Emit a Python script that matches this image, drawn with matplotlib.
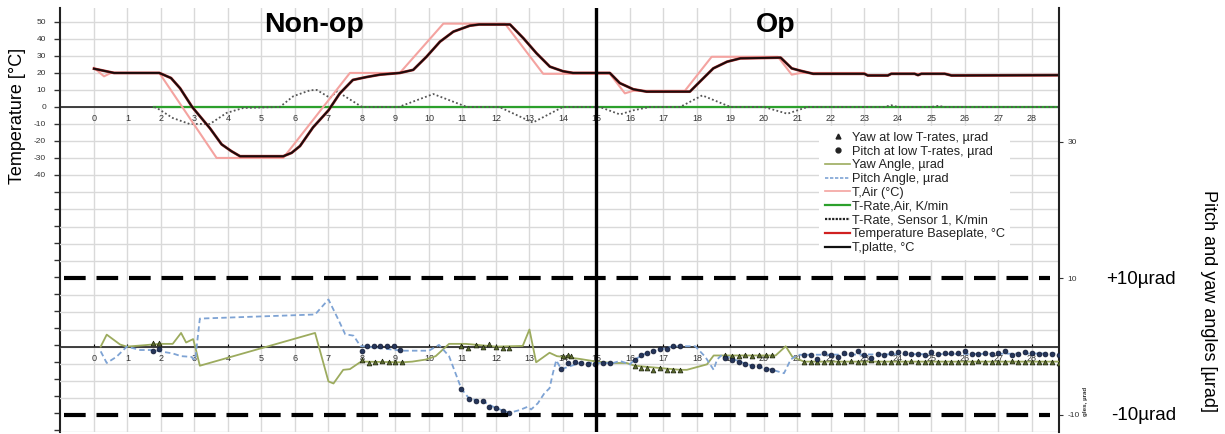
import matplotlib.pyplot as plt
from matplotlib.lines import Line2D

plt.rcParams['font.family'] = ['Liberation Sans', 'DejaVu Sans']
plt.rcParams['axes.unicode_minus'] = False

# x axis ticks (hours) shared by both panels
x_ticks = list(range(0, 29))

# temperatures, deg C (left axis)
t_air_x = [0, 0.3, 0.5, 1.95, 3.66, 5.65, 7.64, 9.13, 10.43, 12.27, 13.41, 15.4, 15.85, 16.1,
           17.64, 18.44, 20.42, 20.83, 21.1, 23.0, 23.1, 23.7, 23.8, 25.5, 25.6, 28.8]
t_air_y = [23, 18, 20, 20, -30, -30, 20, 20, 49, 49, 19.5, 19.5, 8, 9.5,
           9.5, 29.5, 29.5, 19, 20, 20, 18.5, 18.5, 19.5, 19.5, 18.5, 18.5]

t_plate_x = [0, 0.6, 1.95, 2.3, 2.57, 2.93, 3.46, 3.81, 4.1, 4.36, 5.65, 5.9, 6.15, 6.54, 7.0,
             7.34, 7.73, 8.14, 8.54, 9.13, 9.53, 9.93, 10.33, 10.73, 11.22, 11.5, 12.42, 12.82,
             13.21, 13.61, 14.0, 14.3, 15.4, 15.7, 16.1, 16.5, 17.79, 18.09, 18.49, 18.9, 19.3,
             20.5, 20.83, 21.07, 21.47, 23.0, 23.1, 23.7, 23.8, 24.5, 24.6, 24.7, 25.4, 25.6, 28.8]
t_plate_y = [22.5, 20, 20, 17, 11, 0, -12.5, -22, -26, -29, -29, -27, -23, -12, -2,
             8, 15.9, 17.6, 19, 20, 21.8, 29.6, 38.4, 44.3, 47.8, 48.5, 48.5, 40.4,
             31.6, 23.7, 21, 20, 20, 14, 10.4, 9, 9, 14.9, 22.7, 26.6, 28.6,
             29, 22.7, 21.4, 19.5, 19.5, 18.5, 18.5, 19.5, 19.5, 18.7, 19.5, 19.5, 18.5, 18.7]
# baseplate temperature runs under the T,platte curve
t_base_x = t_plate_x
t_base_y = t_plate_y

rate_air_x = [1.8, 28.8]
rate_air_y = [0, 0]

rate_s1_x = [1.8, 1.95, 2.35, 2.85, 3.46, 3.96, 4.46, 5.55, 5.95, 6.45, 6.65, 7.05, 7.25, 8.0,
             9.1, 10.13, 11.13, 12.1, 13.1, 14.0, 15.1, 15.7, 16.1, 16.6, 17.5, 18.16, 19.0,
             20.0, 20.7, 21.3, 23.6, 23.8, 24.0, 25.0, 25.2, 25.4, 28.8]
rate_s1_y = [0, -1.5, -6.5, -10, -10, -3.5, -0.6, 0, 6.3, 9.8, 10, 5.3, 9.2, 0,
             0, 7.6, 0, 0, -9.2, 0, 0, -4.4, -2, 0, 0, 6.8, 0,
             0, -4, 0, 0, 1, 0, 0, 0.6, 0, 0]

# angles, urad (right axis)
yaw_x = [0.2, 0.38, 0.78, 0.98, 1.5, 1.95, 2.35, 2.6, 2.75, 2.96, 3.02, 3.16, 6.6, 7.0, 7.15,
         7.44, 7.64, 7.94, 8.04, 9.2, 9.5, 9.9, 10.2, 10.6, 11.1, 12.0, 12.8, 13.0, 13.2, 13.6,
         13.82, 14.0, 14.5, 15.0, 15.5, 15.9, 16.14, 17.5, 17.7, 18.3, 18.5, 18.9, 20.35, 20.65,
         20.85, 21.2, 28.8]
yaw_y = [0, 1.75, 0.3, 0, 0.2, 0.4, 0.4, 2.0, 0.6, 1.1, 0, -2.8, 2.0, -5.1, -5.4,
         -3.4, -3.3, -2.3, -2.2, -2.3, -2.2, -1.9, -1.4, 0.4, 0.4, 0, 0.1, 2.5, -2.3, -0.9,
         -1.4, -1.5, -1.8, -2.2, -2.4, -2.4, -2.8, -3.4, -3.4, -2.6, -1.3, -1.3, -1.3, 0.05,
         -1.5, -2.2, -2.2]

pitch_x = [0.2, 0.38, 0.67, 0.98, 1.38, 1.78, 1.98, 2.35, 2.6, 2.9, 3.02, 3.16, 6.6, 7.0, 7.3,
           7.5, 7.75, 7.95, 9.2, 10.0, 10.3, 10.6, 10.97, 11.2, 11.6, 12.0, 12.4, 12.7, 12.95,
           13.05, 13.25, 13.45, 13.6, 13.7, 13.8, 13.95, 14.5, 15.5, 15.7, 16.0, 16.14, 16.5,
           17.3, 17.95, 18.25, 18.5, 18.6, 18.75, 19.5, 20.25, 20.6, 20.8, 21.0, 21.2, 28.8]
pitch_y = [-0.7, -2.4, -1.5, 0, -0.5, -0.5, -0.7, -1.0, -1.4, -1.5, -2.0, 4.1, 4.7, 6.9, 3.9,
           1.8, 1.6, 0.1, -0.6, -0.6, 0.25, -1.4, -6.2, -7.6, -8.0, -9.0, -9.7, -9.3, -8.8,
           -9.2, -8.3, -6.8, -6.1, -3.9, -2.0, -3.3, -2.4, -2.4, -2.1, -2.6, -1.9, -0.9,
           0.05, 0.05, -1.5, -3.4, -1.9, -1.2, -2.6, -3.4, -3.9, -1.9, -1.2, -1.2, -1.0]

tail_x = [21.2, 21.4, 21.6, 21.8, 22.0, 22.2, 22.4, 22.6, 22.8, 23.0, 23.2, 23.4, 23.6,
          23.8, 24.0, 24.2, 24.4, 24.6, 24.8, 25.0, 25.2, 25.4, 25.6, 25.8, 26.0, 26.2,
          26.4, 26.6, 26.8, 27.0, 27.2, 27.4, 27.6, 27.8, 28.0, 28.2, 28.4, 28.6, 28.8]

yaw_lo_x = [1.75, 1.95, 8.0, 8.2, 8.4, 8.6, 8.8, 9.0, 9.2, 10.97, 11.17, 11.4, 11.6, 11.8,
            12.0, 12.2, 12.4, 14.0, 14.15, 14.25, 16.14, 16.34, 16.5, 16.7, 16.9, 17.1, 17.3,
            17.5, 18.85, 19.05, 19.25, 19.45, 19.65, 19.85, 20.05, 20.25] + tail_x
yaw_lo_y = [0.5, 0.5, -1.9, -2.4, -2.2, -2.1, -2.2, -2.2, -2.3, 0.05, -0.2, 0.25, -0.1, 0.4,
            -0.1, -0.2, -0.2, -1.4, -1.3, -1.4, -2.8, -3.1, -3.2, -3.4, -3.2, -3.4, -3.4,
            -3.4, -1.3, -1.4, -1.4, -1.3, -1.4, -1.2, -1.2, -1.3,
            -2.2, -2.3, -2.2, -2.3, -2.3, -2.2, -2.3, -2.1, -2.3, -2.3,
            -2.0, -2.3, -2.3, -2.2, -2.3, -2.3, -2.1, -2.3, -2.3, -2.2,
            -2.3, -2.3, -2.3, -2.2, -2.3, -2.3, -2.1, -2.3, -2.3, -2.2,
            -2.3, -2.1, -2.3, -2.3, -2.2, -2.3, -2.3, -2.2, -2.4]

pitch_lo_x = [1.75, 1.95, 8.0, 8.15, 8.35, 8.55, 8.75, 8.95, 9.15, 10.97, 11.2, 11.4, 11.6,
              11.8, 12.0, 12.2, 12.4, 13.95, 14.15, 14.35, 14.55, 14.75, 14.95, 15.2, 15.4,
              16.14, 16.33, 16.5, 16.7, 16.9, 17.1, 17.3, 17.5, 18.85, 19.05, 19.25, 19.45,
              19.65, 19.85, 20.05, 20.25] + tail_x
pitch_lo_y = [-0.6, -0.3, -0.7, 0.05, 0.1, 0.15, 0.15, 0.05, -0.5, -6.2, -7.6, -8.0, -8.0,
              -8.8, -9.0, -9.45, -9.7, -3.3, -2.4, -2.2, -2.4, -2.6, -2.6, -2.4, -2.4,
              -1.9, -1.2, -0.9, -0.7, -0.4, -0.3, 0.05, 0.05, -1.7, -2.0, -2.3, -2.6,
              -2.8, -2.9, -3.3, -3.4,
              -1.2, -1.3, -1.8, -0.9, -1.2, -1.5, -0.9, -1.1, -0.7, -1.3,
              -1.7, -1.1, -1.3, -0.9, -0.8, -0.9, -1.1, -1.1, -1.2, -0.8,
              -1.1, -0.9, -0.9, -0.9, -0.7, -1.1, -1.1, -0.9, -1.1, -0.9,
              -0.7, -1.2, -1.1, -0.8, -0.9, -1.1, -1.1, -1.1, -1.2]

limit_urad = [10, -10]
phase_split = 15

W, H = 1225, 434
fig = plt.figure(figsize=(W / 100, H / 100), dpi=100)
ax = fig.add_axes([60 / W, 2 / H, 999 / W, 424 / H])
ax2 = ax.twinx()

ax.set_xlim(-1.015, 28.81)
ax.set_ylim(-191.2, 58.2)
ax2.set_ylim(-12.43, 49.56)

grid_c = '#d9d9d9'
ax.set_xticks(x_ticks)
ax.set_yticks(list(range(-60, 51, 10)))
ax.set_yticklabels([str(v) if v >= -40 else '' for v in range(-60, 51, 10)])
ax.set_yticks(list(range(-190, -60, 10)), minor=True)
ax.grid(True, which='major', color=grid_c, lw=1)
ax.tick_params(axis='y', which='both', length=4, width=1, labelsize=6, colors='#333',
               pad=6)
ax.tick_params(axis='x', length=0, labelsize=6.5, labelcolor='#333', pad=5)
ax.spines['bottom'].set_position(('data', 0))
ax.spines['bottom'].set_color('#222')
ax.spines['bottom'].set_linewidth(1.2)
ax.spines['left'].set_color('#222')
ax.spines['left'].set_linewidth(1.5)
ax.spines['top'].set_visible(False)
ax.spines['right'].set_visible(False)
ax.set_axisbelow(True)

# lower panel axis (angles)
ax2.set_yticks(limit_urad[:1] + [30] + limit_urad[1:])
ax2.set_yticks([-12.5 + 2.5 * i for i in range(13)], minor=True)
ax2.grid(True, which='minor', axis='y', color=grid_c, lw=1)
ax2.set_axisbelow(True)
ax2.tick_params(axis='y', which='major', length=3, labelsize=6, colors='#333', pad=3)
ax2.tick_params(axis='y', which='minor', length=0)
ax2.xaxis.set_visible(True)
ax2.xaxis.set_ticks_position('bottom')
ax2.tick_params(axis='x', length=2.5, direction='in', labelsize=6.5, labelcolor='#333', pad=5)
ax2.spines['bottom'].set_position(('data', 0))
ax2.spines['bottom'].set_color('#222')
ax2.spines['bottom'].set_linewidth(1.2)
ax2.spines['right'].set_color('#222')
ax2.spines['right'].set_linewidth(1.5)
ax2.spines['left'].set_visible(False)
ax2.spines['top'].set_visible(False)

# temperature curves
ax.plot(rate_air_x, rate_air_y, color='#2ca02c', lw=1.6, zorder=3)
ax.plot(rate_s1_x, rate_s1_y, color='#555555', lw=1.3, ls=(0, (1, 1.3)), zorder=3)
ax.plot(t_air_x, t_air_y, color='#f4a3a0', lw=1.5, zorder=4)
ax.plot(t_base_x, t_base_y, color='#b03030', lw=2.0, zorder=5)
ax.plot(t_plate_x, t_plate_y, color='#1a0c0c', lw=1.4, zorder=6)

# angle curves
ax2.plot(yaw_x, yaw_y, color='#9cab5e', lw=1.3, zorder=3)
ax2.plot(pitch_x, pitch_y, color='#7ea3d4', lw=1.3, ls=(0, (3, 1.8)), zorder=3)
ax2.plot(yaw_lo_x, yaw_lo_y, ls='none', marker='^', ms=3.5, mfc='#5a6a2c', mec='#1c220c',
         mew=0.5, zorder=4)
ax2.plot(pitch_lo_x, pitch_lo_y, ls='none', marker='o', ms=3.5, mfc='#25355a', mec='#101830',
         mew=0.5, zorder=4)

for v in limit_urad:
    ax2.axhline(v, xmin=0.004, xmax=0.991, color='black', lw=3, ls=(0, (5.2, 2.6)), zorder=5)
ax2.axvline(phase_split, color='black', lw=2.4, zorder=6)

handles = [
    Line2D([], [], ls='none', marker='^', ms=3.5, mfc='#222', mec='#222'),
    Line2D([], [], ls='none', marker='o', ms=3.5, mfc='#222', mec='#222'),
    Line2D([], [], color='#9cab5e', lw=1.2),
    Line2D([], [], color='#7ea3d4', lw=1.2, ls=(0, (2, 1))),
    Line2D([], [], color='#f4a3a0', lw=1.2),
    Line2D([], [], color='#2ca02c', lw=1.6),
    Line2D([], [], color='#222', lw=1.6, ls=(0, (1, 0.6))),
    Line2D([], [], color='#d02020', lw=1.6),
    Line2D([], [], color='#111', lw=1.6),
]
labels = ['Yaw at low T-rates, µrad', 'Pitch at low T-rates, µrad', 'Yaw Angle, µrad',
          'Pitch Angle, µrad', 'T,Air (°C)', 'T-Rate,Air, K/min', 'T-Rate, Sensor 1, K/min',
          'Temperature Baseplate, °C', 'T,platte, °C']
leg = ax2.legend(handles, labels, loc='upper left', bbox_to_anchor=(819 / W, 1 - 126 / H),
                 bbox_transform=fig.transFigure, fontsize=9.2, frameon=True, fancybox=False,
                 edgecolor='none', facecolor='white', framealpha=1, borderpad=0.45,
                 borderaxespad=0, handlelength=2.0, handletextpad=0.1, labelspacing=0.14)
for t in leg.get_texts():
    t.set_color('#222')
leg.set_zorder(10)


def fpos(px, py):
    return px / W, 1 - py / H


fig.text(*fpos(314, 31.7), 'Non-op', fontsize=20.5, fontweight='bold', ha='center',
         va='baseline')
fig.text(*fpos(776, 31.7), 'Op', fontsize=20.5, fontweight='bold', ha='center', va='baseline')
fig.text(*fpos(18, 116), 'Temperature [°C]', fontsize=13, rotation=90, ha='center',
         va='center')
fig.text(*fpos(1208, 301), 'Pitch and yaw angles [µrad]', fontsize=13, rotation=270,
         ha='center', va='center')
fig.text(*fpos(1141, 279), '+10µrad', fontsize=13.5, ha='center', va='center')
fig.text(*fpos(1144, 416), '-10µrad', fontsize=13.5, ha='center', va='center')
fig.text(*fpos(1086, 401), 'gles, µrad', fontsize=4.5, fontweight='bold', rotation=90,
         ha='center', va='center', color='#333')

fig.savefig('out.png', dpi=100)
